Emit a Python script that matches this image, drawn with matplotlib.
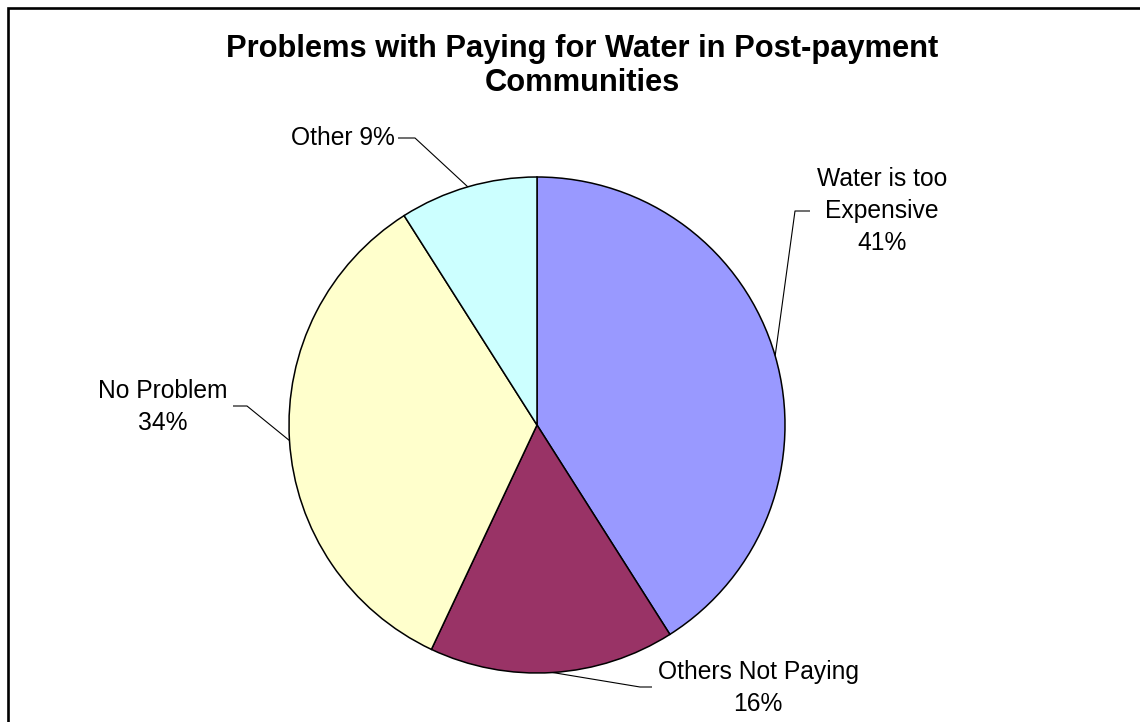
import numpy as np
import matplotlib.pyplot as plt

# Survey results #
labels = ['Water is too\nExpensive', 'Others Not Paying', 'No Problem', 'Other']
shares = [41, 16, 34, 9]
colors = ['#9999FF', '#993366', '#FFFFCC', '#CCFFFF']

W, H = 1140, 722

plt.rcParams['font.family'] = ['Liberation Sans', 'DejaVu Sans']

fig = plt.figure(figsize=(W / 100, H / 100), dpi=100)
ax = fig.add_axes([0, 0, 1, 1])

# Pie parameters (pixel units, y measured from the bottom) #
cx, cy, r = 537, H - 425, 248

wedges, _ = ax.pie(shares, colors=colors, startangle=90, counterclock=False,
                   center=(cx, cy), radius=r, frame=True,
                   wedgeprops=dict(edgecolor='k', linewidth=1.1))
ax.set_xlim(0, W)
ax.set_ylim(0, H)
ax.set_aspect('equal')
ax.axis('off')

# Label boxes: text centre and elbow of the leader line #
text_pos = [(882, 211), (758, 688), (163, 407), (395, 138)]
elbows = [((810, 211), (795, 211)), ((652, 687), (640, 687)),
          ((233, 406), (247, 406)), ((398, 138), (415, 138))]

for i, w in enumerate(wedges):
    mid = np.deg2rad((w.theta1 + w.theta2) / 2)
    px, py = cx + r * np.cos(mid), cy + r * np.sin(mid)
    (ex0, ey0), (ex1, ey1) = elbows[i]
    ax.plot([ex0, ex1, px], [H - ey0, H - ey1, py], color='k', lw=0.8,
            solid_capstyle='butt')
    tx, ty = text_pos[i]
    if labels[i] == 'Other':
        ax.text(tx, H - ty, '%s %d%%' % (labels[i], shares[i]), ha='right',
                va='center', fontsize=17.7)
    else:
        ax.text(tx, H - ty, '%s\n%d%%' % (labels[i], shares[i]), ha='center',
                va='center', fontsize=17.7, linespacing=1.42)

# Title #
ax.text(582, H - 66, 'Problems with Paying for Water in Post-payment\nCommunities',
        ha='center', va='center', fontsize=22.2, fontweight='bold', linespacing=1.2)

# Chart border #
ax.plot([8, 8, W + 10], [-10, H - 7.5, H - 7.5], color='k', lw=1.9,
        solid_joinstyle='miter')

fig.savefig('out.png', dpi=100)
